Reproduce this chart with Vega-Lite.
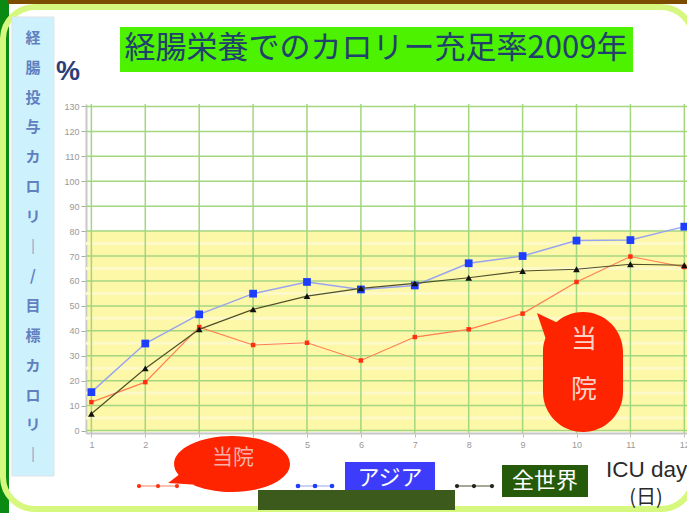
{
  "$schema": "https://vega.github.io/schema/vega-lite/v6.json",
  "width": 601,
  "height": 329,
  "autosize": {"type": "none"},
  "padding": {"left": 86, "top": 104, "right": 0, "bottom": 80},
  "background": "#ffffff",
  "config": {
    "view": {"stroke": null},
    "font": "Liberation Sans",
    "axisX": {"tickCount": 12, "format": "d", "grid": false, "tickSize": 4, "tickColor": "#bbbbbb", "domainColor": "#c8c8c8", "domainWidth": 2, "labelFontSize": 9, "labelColor": "#999999", "labelPadding": 3, "labelFont": "Liberation Sans", "labelOverlap": false},
    "axisY": {"tickCount": 14, "format": "d", "grid": false, "tickSize": 5, "tickColor": "#aaaaaa", "domainColor": "#c8c8c8", "domainWidth": 2, "labelFontSize": 9, "labelColor": "#999999", "labelPadding": 2, "labelFont": "Liberation Sans", "labelOverlap": false}
  },
  "data": {"values": [{}]},
  "datasets": {
    "rates": [
      {"day": 1, "series": "当院", "value": 11.4},
      {"day": 2, "series": "当院", "value": 19.4},
      {"day": 3, "series": "当院", "value": 41.5},
      {"day": 4, "series": "当院", "value": 34.3},
      {"day": 5, "series": "当院", "value": 35.2},
      {"day": 6, "series": "当院", "value": 28.1},
      {"day": 7, "series": "当院", "value": 37.5},
      {"day": 8, "series": "当院", "value": 40.6},
      {"day": 9, "series": "当院", "value": 46.9},
      {"day": 10, "series": "当院", "value": 59.6},
      {"day": 11, "series": "当院", "value": 69.8},
      {"day": 12, "series": "当院", "value": 65.6},
      {"day": 1, "series": "アジア", "value": 15.4},
      {"day": 2, "series": "アジア", "value": 34.9},
      {"day": 3, "series": "アジア", "value": 46.6},
      {"day": 4, "series": "アジア", "value": 54.9},
      {"day": 5, "series": "アジア", "value": 59.6},
      {"day": 6, "series": "アジア", "value": 56.6},
      {"day": 7, "series": "アジア", "value": 58.2},
      {"day": 8, "series": "アジア", "value": 67.1},
      {"day": 9, "series": "アジア", "value": 70.0},
      {"day": 10, "series": "アジア", "value": 76.2},
      {"day": 11, "series": "アジア", "value": 76.4},
      {"day": 12, "series": "アジア", "value": 81.8},
      {"day": 1, "series": "全世界", "value": 6.7},
      {"day": 2, "series": "全世界", "value": 24.9},
      {"day": 3, "series": "全世界", "value": 40.6},
      {"day": 4, "series": "全世界", "value": 48.6},
      {"day": 5, "series": "全世界", "value": 53.9},
      {"day": 6, "series": "全世界", "value": 57.0},
      {"day": 7, "series": "全世界", "value": 59.0},
      {"day": 8, "series": "全世界", "value": 61.3},
      {"day": 9, "series": "全世界", "value": 64.0},
      {"day": 10, "series": "全世界", "value": 64.7},
      {"day": 11, "series": "全世界", "value": 66.7},
      {"day": 12, "series": "全世界", "value": 66.3}
    ],
    "days": [{"d": 1}, {"d": 2}, {"d": 3}, {"d": 4}, {"d": 5}, {"d": 6}, {"d": 7}, {"d": 8}, {"d": 9}, {"d": 10}, {"d": 11}, {"d": 12}],
    "levels": [{"v": 0}, {"v": 10}, {"v": 20}, {"v": 30}, {"v": 40}, {"v": 50}, {"v": 60}, {"v": 70}, {"v": 80}, {"v": 90}, {"v": 100}, {"v": 110}, {"v": 120}, {"v": 130}],
    "halves": [{"v": 5}, {"v": 15}, {"v": 25}, {"v": 35}, {"v": 45}, {"v": 55}, {"v": 65}, {"v": 75}]
  },
  "layer": [
    {
      "mark": {"type": "rect", "color": "#0a8a12"},
      "encoding": {
        "x": {"datum": -0.72, "type": "quantitative", "scale": {"domain": [0.9, 12.05], "nice": false, "zero": false},
          "axis": {"values": [1, 2, 3, 4, 5, 6, 7, 8, 9, 10, 11, 12], "title": null}},
        "x2": {"datum": -0.5286},
        "y": {"datum": 175, "type": "quantitative", "scale": {"domain": [-1, 131], "nice": false, "zero": false},
          "axis": {"values": [0, 10, 20, 30, 40, 50, 60, 70, 80, 90, 100, 110, 120, 130], "title": null}},
        "y2": {"datum": -35}
      }
    },
    {
      "mark": {"type": "rect", "color": "#7a4d00"},
      "encoding": {"x": {"datum": -0.547}, "x2": {"datum": 12.3}, "y": {"datum": 175}, "y2": {"datum": 171.1}}
    },
    {
      "mark": {"type": "rect", "filled": false, "stroke": "#d6f87e", "strokeWidth": 6, "cornerRadius": 32},
      "encoding": {"x": {"datum": -0.64}, "x2": {"datum": 12.162}, "y": {"datum": 169.92}, "y2": {"datum": -31.5}}
    },
    {
      "mark": {"type": "rect", "fill": "#cdf2fd", "stroke": "#dde3e6", "strokeWidth": 1},
      "encoding": {"x": {"datum": -0.473}, "x2": {"datum": 0.306}, "y": {"datum": 165.9}, "y2": {"datum": -18.25}}
    },
    {
      "mark": {"type": "text", "text": ["経", "腸", "投", "与", "カ", "ロ", "リ", "｜", "/", "目", "標", "カ", "ロ", "リ", "｜"], "lineHeight": 29.8, "font": "Noto Sans CJK JP", "fontSize": 15, "fontWeight": "bold", "color": "#6080c0", "align": "center", "baseline": "middle"},
      "encoding": {"x": {"datum": -0.083}, "y": {"datum": 157.48}}
    },
    {
      "mark": {"type": "rect", "color": "#4cf200"},
      "encoding": {"x": {"datum": 1.531}, "x2": {"datum": 11.048}, "y": {"datum": 161.9}, "y2": {"datum": 143.84}}
    },
    {
      "mark": {"type": "text", "text": "経腸栄養でのカロリー充足率2009年", "font": "Noto Sans CJK JP", "fontSize": 31, "color": "#21406e", "align": "center", "baseline": "middle"},
      "encoding": {"x": {"datum": 6.28}, "y": {"datum": 153.07}}
    },
    {
      "mark": {"type": "text", "text": "%", "font": "Liberation Sans", "fontSize": 27, "fontWeight": "bold", "color": "#2c3e7a", "align": "center", "baseline": "middle"},
      "encoding": {"x": {"datum": 0.566}, "y": {"datum": 143.84}}
    },
    {
      "mark": {"type": "rect", "color": "#fdf7a8"},
      "encoding": {"x": {"datum": 0.937}, "x2": {"datum": 12.05}, "y": {"datum": -0.4}, "y2": {"datum": 80}}
    },
    {
      "data": {"name": "halves"},
      "mark": {"type": "rule", "color": "#fdf9c8", "strokeWidth": 3},
      "encoding": {"y": {"field": "v", "type": "quantitative"}}
    },
    {
      "data": {"name": "days"},
      "mark": {"type": "rule", "color": "#a3d67f", "strokeWidth": 1.5},
      "encoding": {"x": {"field": "d", "type": "quantitative"}}
    },
    {
      "data": {"name": "levels"},
      "mark": {"type": "rule", "color": "#a3d67f", "strokeWidth": 1.5},
      "encoding": {"y": {"field": "v", "type": "quantitative"}}
    },
    {
      "data": {"name": "rates"},
      "transform": [{"filter": "datum.series === '当院'"}],
      "mark": {"type": "line", "color": "#ff7f50", "strokeWidth": 1.2},
      "encoding": {"x": {"field": "day", "type": "quantitative"}, "y": {"field": "value", "type": "quantitative"}}
    },
    {
      "data": {"name": "rates"},
      "transform": [{"filter": "datum.series === '当院'"}],
      "mark": {"type": "point", "shape": "square", "filled": true, "size": 20, "color": "#ff3010", "opacity": 1},
      "encoding": {"x": {"field": "day", "type": "quantitative"}, "y": {"field": "value", "type": "quantitative"}}
    },
    {
      "data": {"name": "rates"},
      "transform": [{"filter": "datum.series === 'アジア'"}],
      "mark": {"type": "line", "color": "#98a4ee", "strokeWidth": 1.5},
      "encoding": {"x": {"field": "day", "type": "quantitative"}, "y": {"field": "value", "type": "quantitative"}}
    },
    {
      "data": {"name": "rates"},
      "transform": [{"filter": "datum.series === 'アジア'"}],
      "mark": {"type": "point", "shape": "square", "filled": true, "size": 60, "color": "#1d3dff", "opacity": 1},
      "encoding": {"x": {"field": "day", "type": "quantitative"}, "y": {"field": "value", "type": "quantitative"}}
    },
    {
      "data": {"name": "rates"},
      "transform": [{"filter": "datum.series === '全世界'"}],
      "mark": {"type": "line", "color": "#50502a", "strokeWidth": 1.2},
      "encoding": {"x": {"field": "day", "type": "quantitative"}, "y": {"field": "value", "type": "quantitative"}}
    },
    {
      "data": {"name": "rates"},
      "transform": [{"filter": "datum.series === '全世界'"}],
      "mark": {"type": "point", "shape": "triangle-up", "filled": true, "size": 45, "color": "#111111", "opacity": 1},
      "encoding": {"x": {"field": "day", "type": "quantitative"}, "y": {"field": "value", "type": "quantitative"}}
    },
    {
      "mark": {"type": "point", "shape": "M -0.617,-0.333 C -0.617,-0.701 -0.318,-1 0.05,-1 C 0.418,-1 0.717,-0.701 0.717,-0.333 L 0.717,0.333 C 0.717,0.701 0.418,1 0.05,1 C -0.318,1 -0.617,0.701 -0.617,0.333 Z M -0.717,-0.983 L -0.333,-0.8 L -0.45,-0.2 Z", "filled": true, "size": 14400, "color": "#ff2400", "strokeWidth": 0, "opacity": 1},
      "encoding": {"x": {"datum": 10.065}, "y": {"datum": 23.47}}
    },
    {
      "mark": {"type": "text", "text": ["当", "院"], "lineHeight": 50, "font": "Noto Sans CJK JP", "fontSize": 26, "color": "#f9d2c8", "align": "center", "baseline": "middle"},
      "encoding": {"x": {"datum": 10.139}, "y": {"datum": 36.31}}
    },
    {
      "data": {"values": [{"lx": 1.883}, {"lx": 2.236}, {"lx": 2.588}]},
      "mark": {"type": "line", "color": "#ff8060", "strokeWidth": 1},
      "encoding": {"x": {"field": "lx", "type": "quantitative"}, "y": {"datum": -22.27}}
    },
    {
      "data": {"values": [{"lx": 1.883}, {"lx": 2.236}, {"lx": 2.588}]},
      "mark": {"type": "point", "shape": "circle", "filled": true, "size": 18, "color": "#ff3010", "opacity": 1},
      "encoding": {"x": {"field": "lx", "type": "quantitative"}, "y": {"datum": -22.27}}
    },
    {
      "mark": {"type": "point", "shape": "M -0.935,0 C -0.935,-0.25 -0.516,-0.452 0,-0.452 C 0.516,-0.452 0.935,-0.25 0.935,0 C 0.935,0.25 0.516,0.452 0,0.452 C -0.516,0.452 -0.935,0.25 -0.935,0 Z M -1.03,0.306 L -0.758,0.097 L -0.516,0.339 Z", "filled": true, "size": 15376, "color": "#ff2400", "strokeWidth": 0, "opacity": 1},
      "encoding": {"x": {"datum": 3.609}, "y": {"datum": -13.44}}
    },
    {
      "mark": {"type": "text", "text": "当院", "font": "Noto Sans CJK JP", "fontSize": 21, "color": "#f6b0a8", "align": "center", "baseline": "middle"},
      "encoding": {"x": {"datum": 3.627}, "y": {"datum": -11.03}}
    },
    {
      "data": {"values": [{"lx": 4.833}, {"lx": 5.149}, {"lx": 5.464}]},
      "mark": {"type": "line", "color": "#98a4ee", "strokeWidth": 1},
      "encoding": {"x": {"field": "lx", "type": "quantitative"}, "y": {"datum": -22.27}}
    },
    {
      "data": {"values": [{"lx": 4.833}, {"lx": 5.149}, {"lx": 5.464}]},
      "mark": {"type": "point", "shape": "circle", "filled": true, "size": 22, "color": "#1d3dff", "opacity": 1},
      "encoding": {"x": {"field": "lx", "type": "quantitative"}, "y": {"datum": -22.27}}
    },
    {
      "mark": {"type": "rect", "color": "#3c3cfa"},
      "encoding": {"x": {"datum": 5.705}, "x2": {"datum": 7.375}, "y": {"datum": -12.64}, "y2": {"datum": -24.67}}
    },
    {
      "mark": {"type": "text", "text": "アジア", "font": "Noto Sans CJK JP", "fontSize": 22, "color": "#ffffff", "align": "center", "baseline": "middle"},
      "encoding": {"x": {"datum": 6.54}, "y": {"datum": -19.06}}
    },
    {
      "data": {"values": [{"lx": 7.783}, {"lx": 8.098}, {"lx": 8.432}]},
      "mark": {"type": "line", "color": "#50502a", "strokeWidth": 1},
      "encoding": {"x": {"field": "lx", "type": "quantitative"}, "y": {"datum": -22.27}}
    },
    {
      "data": {"values": [{"lx": 7.783}, {"lx": 8.098}, {"lx": 8.432}]},
      "mark": {"type": "point", "shape": "circle", "filled": true, "size": 18, "color": "#222222", "opacity": 1},
      "encoding": {"x": {"field": "lx", "type": "quantitative"}, "y": {"datum": -22.27}}
    },
    {
      "mark": {"type": "rect", "color": "#255a0a"},
      "encoding": {"x": {"datum": 8.618}, "x2": {"datum": 10.213}, "y": {"datum": -13.84}, "y2": {"datum": -26.68}}
    },
    {
      "mark": {"type": "text", "text": "全世界", "font": "Noto Sans CJK JP", "fontSize": 22, "color": "#ffffff", "align": "center", "baseline": "middle"},
      "encoding": {"x": {"datum": 9.416}, "y": {"datum": -20.26}}
    },
    {
      "mark": {"type": "rect", "color": "#3b5a1c"},
      "encoding": {"x": {"datum": 4.091}, "x2": {"datum": 7.746}, "y": {"datum": -23.87}, "y2": {"datum": -31.9}}
    },
    {
      "mark": {"type": "text", "text": "ICU days", "font": "Liberation Sans", "fontSize": 22.5, "color": "#2a2a2a", "align": "left", "baseline": "middle"},
      "encoding": {"x": {"datum": 10.547}, "y": {"datum": -15.85}}
    },
    {
      "mark": {"type": "text", "text": "(日)", "font": "Noto Sans CJK JP", "fontSize": 20, "color": "#2a2a2a", "align": "center", "baseline": "middle"},
      "encoding": {"x": {"datum": 11.29}, "y": {"datum": -27.08}}
    }
  ]
}
